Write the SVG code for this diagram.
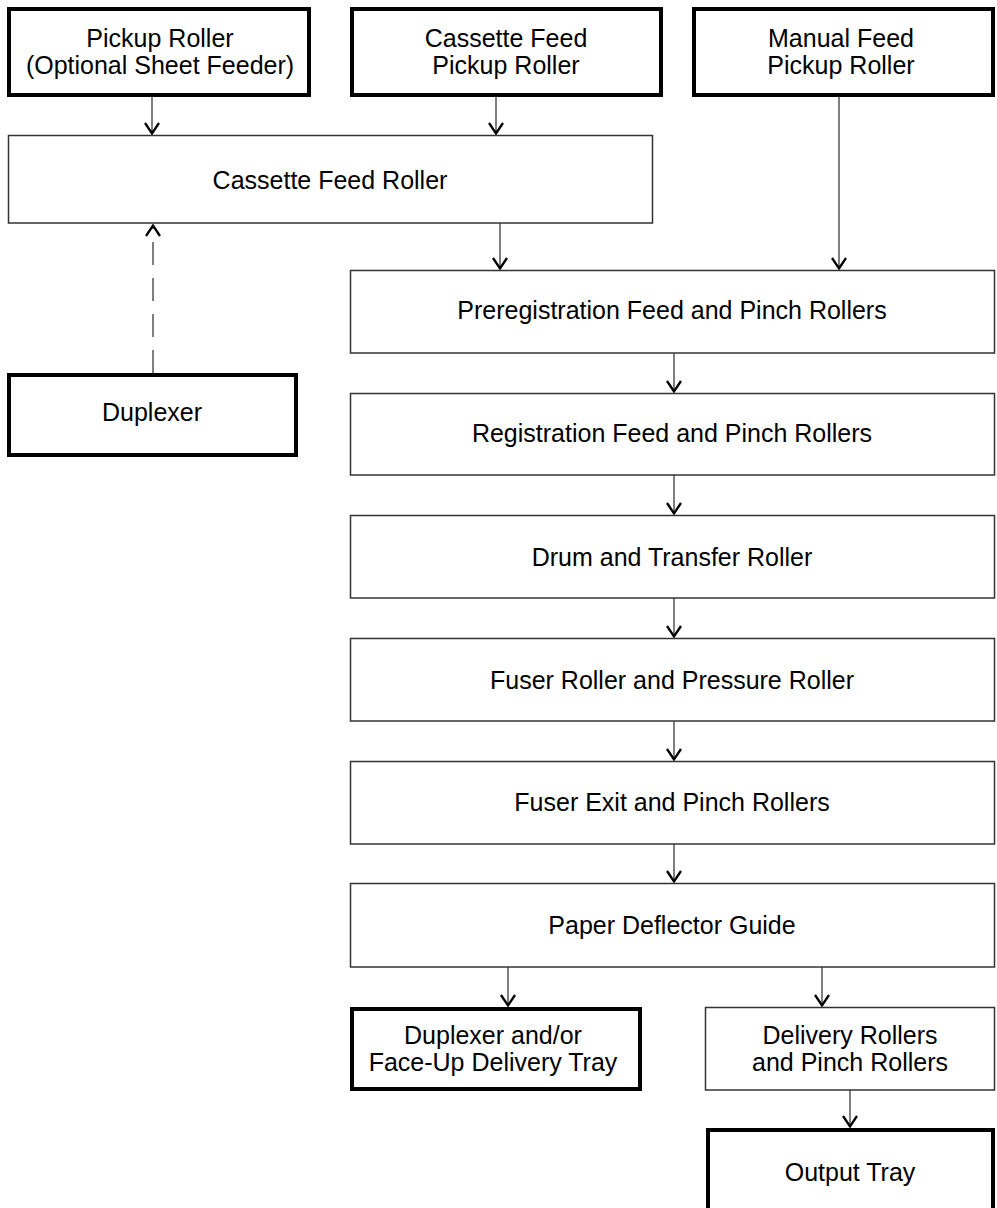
<svg xmlns="http://www.w3.org/2000/svg" width="997" height="1208" viewBox="0 0 997 1208">
<style>
.thin{fill:#fff;stroke:#333;stroke-width:1.5}
.thick{fill:#fff;stroke:#000;stroke-width:4}
.lbl{font-family:"Liberation Sans",Arial,sans-serif;font-size:25px;fill:#000;text-anchor:middle}
.ln{stroke:#555;stroke-width:1.5;fill:none}
.dash{stroke:#555;stroke-width:1.5;fill:none;stroke-dasharray:23 13}
</style>
<defs>
<marker id="ahv" viewBox="-14 -9 16 18" refX="0" refY="0" markerWidth="16" markerHeight="18" markerUnits="userSpaceOnUse" orient="auto">
<path d="M-11,-7 L-0.5,0 L-11,7" fill="none" stroke="#000" stroke-width="2.3"/>
</marker>
</defs>
<g id="connectors">
<line class="ln" x1="152" y1="97" x2="152" y2="134" marker-end="url(#ahv)"/>
<line class="ln" x1="496" y1="97" x2="496" y2="134" marker-end="url(#ahv)"/>
<line class="ln" x1="500" y1="223" x2="500" y2="269" marker-end="url(#ahv)"/>
<line class="ln" x1="839" y1="97" x2="839" y2="269" marker-end="url(#ahv)"/>
<line class="dash" x1="153" y1="373" x2="153" y2="225" marker-end="url(#ahv)"/>
<line class="ln" x1="674" y1="353" x2="674" y2="392" marker-end="url(#ahv)"/>
<line class="ln" x1="674" y1="475" x2="674" y2="514" marker-end="url(#ahv)"/>
<line class="ln" x1="674" y1="598" x2="674" y2="637" marker-end="url(#ahv)"/>
<line class="ln" x1="674" y1="721" x2="674" y2="760" marker-end="url(#ahv)"/>
<line class="ln" x1="674" y1="844" x2="674" y2="882" marker-end="url(#ahv)"/>
<line class="ln" x1="508" y1="967" x2="508" y2="1006" marker-end="url(#ahv)"/>
<line class="ln" x1="822" y1="967" x2="822" y2="1006" marker-end="url(#ahv)"/>
<line class="ln" x1="850" y1="1090" x2="850" y2="1127" marker-end="url(#ahv)"/>
</g>
<g id="pickup-roller">
<rect class="thick" x="9" y="9" width="300" height="86"/>
<text class="lbl" x="160" y="47">Pickup Roller</text>
<text class="lbl" x="160" y="74">(Optional Sheet Feeder)</text>
</g>
<g id="cassette-feed-pickup">
<rect class="thick" x="352" y="9" width="309" height="86"/>
<text class="lbl" x="506" y="47">Cassette Feed</text>
<text class="lbl" x="506" y="74">Pickup Roller</text>
</g>
<g id="manual-feed-pickup">
<rect class="thick" x="694" y="9" width="299" height="86"/>
<text class="lbl" x="841" y="47">Manual Feed</text>
<text class="lbl" x="841" y="74">Pickup Roller</text>
</g>
<g id="cassette-feed-roller">
<rect class="thin" x="8.5" y="135.5" width="644" height="87.5"/>
<text class="lbl" x="330" y="189">Cassette Feed Roller</text>
</g>
<g id="duplexer">
<rect class="thick" x="9" y="375" width="287" height="80"/>
<text class="lbl" x="152" y="421">Duplexer</text>
</g>
<g id="preregistration">
<rect class="thin" x="350.5" y="270.5" width="644" height="82.5"/>
<text class="lbl" x="672" y="319">Preregistration Feed and Pinch Rollers</text>
</g>
<g id="registration">
<rect class="thin" x="350.5" y="393.5" width="644" height="81.5"/>
<text class="lbl" x="672" y="442">Registration Feed and Pinch Rollers</text>
</g>
<g id="drum">
<rect class="thin" x="350.5" y="515.5" width="644" height="82.5"/>
<text class="lbl" x="672" y="566">Drum and Transfer Roller</text>
</g>
<g id="fuser">
<rect class="thin" x="350.5" y="638.5" width="644" height="82.5"/>
<text class="lbl" x="672" y="689">Fuser Roller and Pressure Roller</text>
</g>
<g id="fuser-exit">
<rect class="thin" x="350.5" y="761.5" width="644" height="82.5"/>
<text class="lbl" x="672" y="811">Fuser Exit and Pinch Rollers</text>
</g>
<g id="paper-deflector">
<rect class="thin" x="350.5" y="883.5" width="644" height="83.5"/>
<text class="lbl" x="672" y="934">Paper Deflector Guide</text>
</g>
<g id="duplexer-faceup">
<rect class="thick" x="352" y="1009" width="288" height="80"/>
<text class="lbl" x="493" y="1044">Duplexer and/or</text>
<text class="lbl" x="493" y="1071">Face-Up Delivery Tray</text>
</g>
<g id="delivery-rollers">
<rect class="thin" x="705.5" y="1007.5" width="289" height="82.5"/>
<text class="lbl" x="850" y="1044">Delivery Rollers</text>
<text class="lbl" x="850" y="1071">and Pinch Rollers</text>
</g>
<g id="output-tray">
<rect class="thick" x="708" y="1130" width="285" height="100"/>
<text class="lbl" x="850" y="1181">Output Tray</text>
</g>
</svg>
